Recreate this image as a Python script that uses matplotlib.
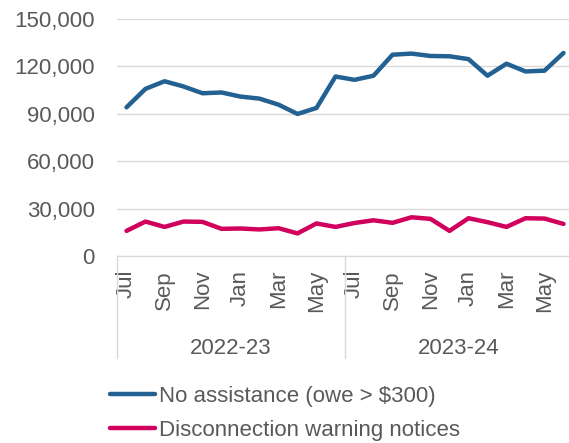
import matplotlib.pyplot as plt
from matplotlib.ticker import FuncFormatter

plt.rcParams['font.family'] = ['Liberation Sans', 'DejaVu Sans']

months = ['Jul', 'Aug', 'Sep', 'Oct', 'Nov', 'Dec', 'Jan', 'Feb', 'Mar', 'Apr', 'May', 'Jun'] * 2
years = ['2022-23', '2023-24']

# monthly counts, Jul 2022 - Jun 2024
no_assistance = [94100, 105800, 110600, 107300, 103000, 103500, 100900, 99600, 95800, 89900, 93700, 113600,
                 111500, 114100, 127400, 128100, 126600, 126400, 124600, 114100, 121700, 116800, 117300, 128500]
warning_notices = [15900, 21800, 18400, 21800, 21600, 17200, 17400, 16800, 17600, 14300, 20600, 18400,
                   20900, 22600, 21000, 24500, 23500, 15900, 23900, 21400, 18400, 23900, 23700, 20300]

blue = '#236192'
pink = '#d0005c'
grey_txt = '#595959'
grid_c = '#d9d9d9'

fig = plt.figure(figsize=(5.69, 4.43), dpi=100)
ax = fig.add_axes([117 / 569, 1 - 256 / 443, 456 / 569, (256 - 19) / 443])

x = list(range(len(months)))
ax.plot(x, no_assistance, color=blue, lw=3.2, solid_capstyle='round', solid_joinstyle='round',
        label='No assistance (owe > $300)')
ax.plot(x, warning_notices, color=pink, lw=3.2, solid_capstyle='round', solid_joinstyle='round',
        label='Disconnection warning notices')

ax.set_xlim(-0.5, len(months) - 0.5)
ax.set_ylim(0, 150000)
ax.set_yticks(range(0, 150001, 30000))
ax.yaxis.set_major_formatter(FuncFormatter(lambda v, p: f'{int(v):,}'))
ax.grid(axis='y', color=grid_c, lw=1)
ax.set_axisbelow(True)
for s in ['top', 'right', 'left']:
    ax.spines[s].set_visible(False)
ax.spines['bottom'].set_color(grid_c)
ax.tick_params(axis='y', length=0, pad=16, labelsize=16, labelcolor=grey_txt)

ax.set_xticks(x[::2])
ax.set_xticklabels(months[::2], rotation=90, va='top', ha='center')
ax.tick_params(axis='x', length=0, pad=10, labelsize=16, labelcolor=grey_txt)

# year groups under the month labels
for i, yr in enumerate(years):
    ax.text(i * 12 + 5.5, -0.39, yr, transform=ax.get_xaxis_transform(), ha='center', va='center',
            fontsize=16, color=grey_txt)
for b in [-0.5, 11.5, 23.5]:
    ax.plot([b, b], [0, -0.43], transform=ax.get_xaxis_transform(), color=grid_c, lw=1, clip_on=False)

leg = fig.legend(loc='upper left', bbox_to_anchor=(101 / 569, 1 - 377 / 443), frameon=False,
                 fontsize=16, handlelength=2.05, handletextpad=0.15, labelspacing=0.6, borderaxespad=0)
for t in leg.get_texts():
    t.set_color(grey_txt)

fig.savefig('out.png', dpi=100)
